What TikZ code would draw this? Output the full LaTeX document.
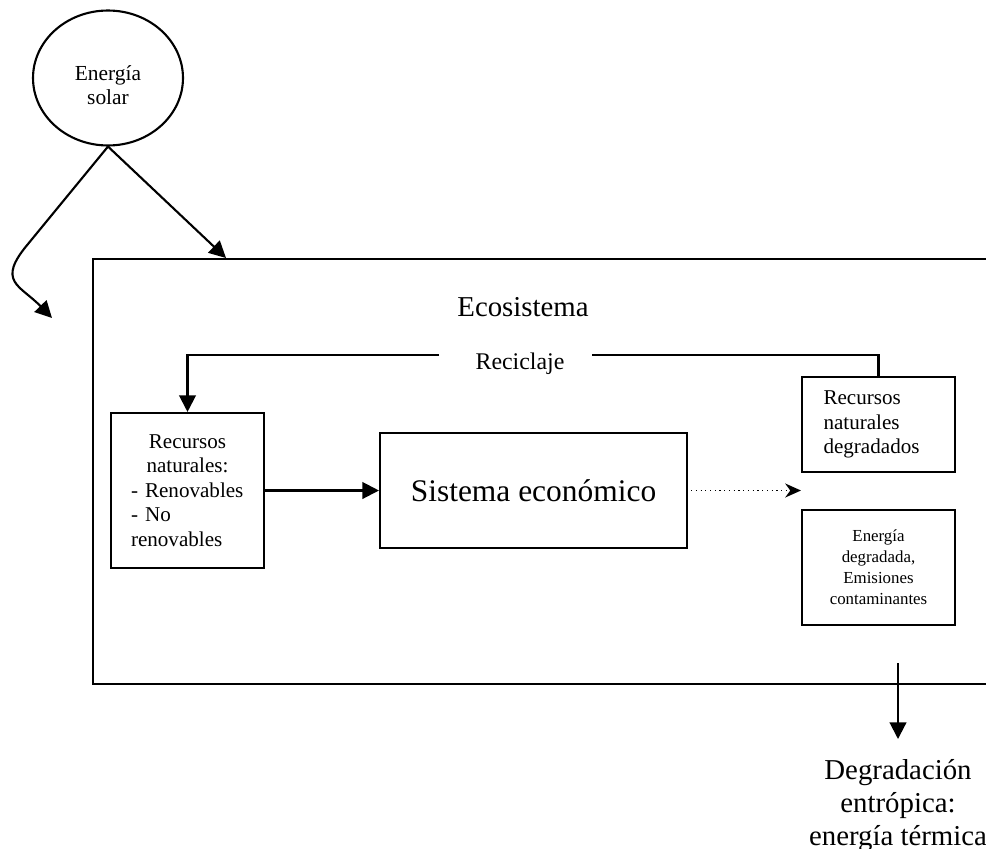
\documentclass[tikz,border=0pt]{standalone}
\usepackage{fontspec}
\setmainfont{Liberation Serif}
\usetikzlibrary{arrows.meta,positioning,shapes.geometric,calc}
\tikzset{
  box/.style={draw,line width=1.2pt,align=center,inner sep=0pt,
              font=\fontsize{12}{14}\selectfont},
  sun/.style={ellipse,draw,line width=1.2pt,minimum width=3cm,minimum height=2.7cm,
              inner sep=0pt},
  fl/.style={-{Triangle[length=9.5pt,width=9.5pt]},line width=1.2pt},
  fld/.style={-{Stealth[length=9pt,width=8pt]},line width=0.7pt,dotted},
  lbl/.style={font=\fontsize{16.4}{18.7}\selectfont,align=center}
}

\begin{document}
\begin{tikzpicture}[x=0.02cm,y=-0.02cm]
  \useasboundingbox (0,0) rectangle (986,848);
  \clip (0,0) rectangle (986,848);

  \node[sun,label={[align=center,font=\fontsize{12.2}{13.6}\selectfont,yshift=-0.15cm]center:{Energía\\solar}}] (sun) at (108,78) {};
  \node[box,anchor=north west,minimum width=19cm,minimum height=8.5cm] (eco) at (92,258) {};
  \node[lbl] (ecotxt) at (523,307) {Ecosistema};
  \node[font=\fontsize{13.6}{15}\selectfont,inner xsep=0.72cm] (recic) at (520,364) {Reciclaje};

  \node[box,minimum width=3.06cm,minimum height=3.1cm,text width=2.26cm,align=left] (recnat) at (187.5,490.5)
    {\makebox[2.26cm]{Recursos}\\\makebox[2.26cm]{naturales:}\\- Renovables\\- No\\renovables};
  \node[box,minimum width=6.14cm,minimum height=2.3cm,font=\fontsize{17.9}{20}\selectfont] (sistema) at (533.5,490.5) {Sistema económico};
  \node[box,minimum width=3.06cm,minimum height=1.9cm,text width=2.2cm,align=left,
        font=\fontsize{12}{14}\selectfont] (degr) at (878.5,424.5) {Recursos\\naturales\\degradados};
  \node[box,minimum width=3.06cm,minimum height=2.3cm,font=\fontsize{9.6}{12}\selectfont] (emis) at (878.5,567.5)
    {Energía\\degradada,\\Emisiones\\contaminantes};

  \node[lbl,anchor=north,inner xsep=0pt,inner ysep=0.4cm] (degtxt) at (898,739)
    {Degradación\\entrópica:\\energía térmica};

  \coordinate (ecoin) at (226,258);
  \coordinate (soltip) at (52,318);
  \coordinate (degout) at (898,663);

  \draw[fl] (sun.south) -- (ecoin);
  \draw[fl] (sun.south) -- (28,244) .. controls (-4,282) and (20,285) .. (soltip);
  \draw[line width=1.2pt] (degr.north) |- ([yshift=0.18cm,xshift=-0.18cm]recic.east);
  \draw[fl] ([yshift=0.18cm]recic.west) -| (recnat.north);
  \draw[fl] (recnat) -- (sistema);
  \draw[fld] ([xshift=0.06cm]sistema.east) -- (sistema.east -| degr.west);
  \draw[fl] (degout) -- (degtxt.north);
\end{tikzpicture}
\end{document}
